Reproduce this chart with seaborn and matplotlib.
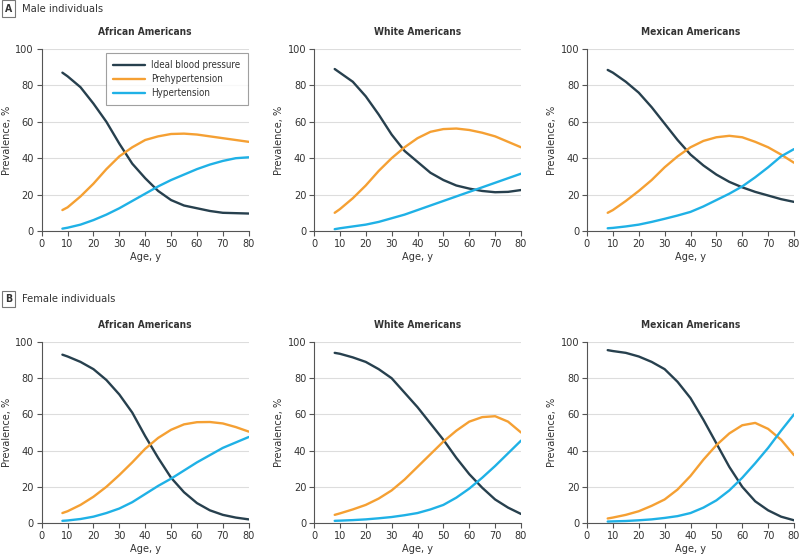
import matplotlib
matplotlib.use("Agg")
import matplotlib.pyplot as plt
import seaborn as sns
import pandas as pd

ages = [8, 10, 15, 20, 25, 30, 35, 40, 45, 50, 55, 60, 65, 70, 75, 80]
statuses = ["Ideal blood pressure", "Prehypertension", "Hypertension"]
groups = ["African Americans", "White Americans", "Mexican Americans"]
sexes = ["Male individuals", "Female individuals"]
panel_letters = ["A", "B"]

# Male
male_african_ideal = [87, 85, 79, 70, 60, 48, 37, 29, 22, 17, 14, 12.5, 11, 10, 9.8, 9.6]
male_african_pre = [11.5, 13, 19, 26, 34, 41, 46, 50, 52, 53.3, 53.5, 53, 52, 51, 50, 49]
male_african_hyp = [1.3, 1.8, 3.5, 6, 9, 12.5, 16.5, 20.5, 24.5, 28, 31, 34, 36.5, 38.5, 40, 40.5]

male_white_ideal = [89, 87, 82, 74, 64, 53, 44, 38, 32, 28, 25, 23.3, 22, 21.3, 21.5, 22.5]
male_white_pre = [10, 12, 18, 25, 33, 40, 46, 51, 54.5, 56, 56.3, 55.5, 54, 52, 49, 46]
male_white_hyp = [1, 1.5, 2.5, 3.5, 5, 7, 9, 11.5, 14, 16.5, 19, 21.5, 24, 26.5, 29, 31.5]

male_mexican_ideal = [88.5, 87, 82, 76, 68, 59, 50, 42, 36, 31, 27, 24, 21.5, 19.5, 17.5, 16]
male_mexican_pre = [10, 11.5, 16.5, 22, 28, 35, 41, 46, 49.5, 51.5, 52.3, 51.5, 49, 46, 42, 37.5]
male_mexican_hyp = [1.5, 1.7, 2.5, 3.5, 5, 6.7, 8.5, 10.5, 13.5, 17, 20.5, 24.5, 29.5, 35, 41, 45]

# Female
female_african_ideal = [93, 92, 89, 85, 79, 71, 61, 48, 36, 25, 17, 11, 7, 4.5, 3, 2]
female_african_pre = [5.5, 6.5, 10, 14.5, 20, 26.5, 33.5, 41, 47, 51.5, 54.5, 55.7, 55.8, 55, 53, 50.5]
female_african_hyp = [1.2, 1.4, 2.2, 3.5, 5.5, 8, 11.5, 16, 20.5, 24.5, 29, 33.5, 37.5, 41.5, 44.5, 47.5]

female_white_ideal = [94, 93.5, 91.5, 89, 85, 80, 72, 64, 55, 46, 36, 27, 19.5, 13, 8.5, 5]
female_white_pre = [4.5, 5.3, 7.5, 10, 13.5, 18, 24, 31, 38, 45, 51, 56, 58.5, 59, 56, 50]
female_white_hyp = [1.2, 1.3, 1.6, 2, 2.6, 3.3, 4.3, 5.5, 7.5, 10, 14, 19, 25, 31.5, 38.5, 45.5]

female_mexican_ideal = [95.5, 95, 94, 92, 89, 85, 78, 69, 57, 44, 31, 20, 12, 7, 3.5, 1.5]
female_mexican_pre = [2.5, 3, 4.5, 6.5, 9.5, 13, 18.5, 26, 35, 43, 49.5, 54, 55.3, 52, 46, 37.5]
female_mexican_hyp = [0.8, 0.9, 1.1, 1.5, 2, 2.8, 3.8, 5.5, 8.5, 12.5, 18, 25, 33, 41.5, 51, 60]

series = {
    ("Male individuals", "African Americans"): (male_african_ideal, male_african_pre, male_african_hyp),
    ("Male individuals", "White Americans"): (male_white_ideal, male_white_pre, male_white_hyp),
    ("Male individuals", "Mexican Americans"): (male_mexican_ideal, male_mexican_pre, male_mexican_hyp),
    ("Female individuals", "African Americans"): (female_african_ideal, female_african_pre, female_african_hyp),
    ("Female individuals", "White Americans"): (female_white_ideal, female_white_pre, female_white_hyp),
    ("Female individuals", "Mexican Americans"): (female_mexican_ideal, female_mexican_pre, female_mexican_hyp),
}

rows = []
for (sex, grp), vals in series.items():
    for st, v in zip(statuses, vals):
        for a, y in zip(ages, v):
            rows.append({"sex": sex, "group": grp, "status": st, "age": a, "value": y})
df = pd.DataFrame(rows)

palette = {"Ideal blood pressure": "#27404e", "Prehypertension": "#f5a033", "Hypertension": "#1fb1e6"}

sns.set_theme(style="white")
plt.rcParams["font.family"] = ["DejaVu Sans"]
plt.rcParams["font.stretch"] = "condensed"

fig = plt.figure(figsize=(8.0, 5.57), dpi=100)
W, H = 800, 557
col_left = [41.7, 314, 587]
ax_w = 207
row_top = [49, 342]
ax_h = [182, 181]
label_y = [8.5, 299]

text_col = "#333333"
FS = 7.8
for r, sex in enumerate(sexes):
    fig.text(8.5 / W, 1 - label_y[r] / H, panel_letters[r], ha="center", va="center",
             fontsize=7.5, fontweight="bold", color=text_col,
             bbox=dict(boxstyle="square,pad=0.3", fc="white", ec="#777777", lw=0.8))
    fig.text(22 / W, 1 - label_y[r] / H, sex, ha="left", va="center", fontsize=8, color=text_col)
    for c, grp in enumerate(groups):
        ax = fig.add_axes([col_left[c] / W, 1 - (row_top[r] + ax_h[r]) / H, ax_w / W, ax_h[r] / H])
        sub = df[(df["sex"] == sex) & (df["group"] == grp)]
        sns.lineplot(data=sub, x="age", y="value", hue="status", hue_order=statuses,
                     palette=palette, linewidth=1.7, ax=ax, legend=(r == 0 and c == 0))
        ax.set_xlim(0, 80)
        ax.set_ylim(0, 100)
        ax.set_xticks(range(0, 81, 10))
        ax.set_yticks(range(0, 101, 20))
        ax.yaxis.grid(True, color="#dddddd", lw=0.8)
        ax.set_axisbelow(True)
        for s in ["top", "right"]:
            ax.spines[s].set_visible(False)
        for s in ["left", "bottom"]:
            ax.spines[s].set_color("#555555")
            ax.spines[s].set_linewidth(0.8)
        ax.tick_params(axis="both", which="both", direction="out", length=3.5, width=0.8,
                       color="#555555", labelsize=FS, labelcolor=text_col, pad=2,
                       bottom=True, left=True)
        ax.set_xlabel("Age, y", fontsize=FS, color=text_col)
        ax.set_ylabel("Prevalence, %", fontsize=FS, color=text_col)
        ax.yaxis.set_label_coords(-0.145, 0.5)
        ax.xaxis.set_label_coords(0.5, -0.115)
        ax.set_title(grp, fontsize=7.3, fontweight="bold", color=text_col, pad=10)
        if r == 0 and c == 0:
            leg = ax.legend(loc="upper right", bbox_to_anchor=(0.995, 0.978), borderaxespad=0,
                            frameon=True, fontsize=7.0, handlelength=3.3, borderpad=0.75,
                            labelspacing=0.4, handletextpad=0.6, fancybox=False, title=None)
            leg.get_frame().set_edgecolor("#888888")
            leg.get_frame().set_linewidth(0.8)
            for t in leg.get_texts():
                t.set_color(text_col)

fig.savefig("out.png", dpi=100)
